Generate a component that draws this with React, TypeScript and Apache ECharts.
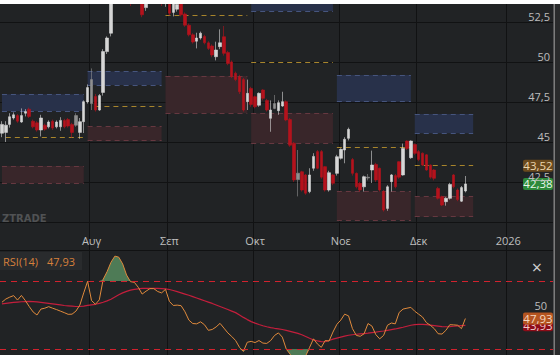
import React, { useEffect, useRef } from 'react';
import * as echarts from 'echarts';

// ---- categories (trading days) ----
const FIRST_DAY = '2025-07-01';
const LAST_DAY = '2026-01-16';
const HOLIDAYS = ['2025-08-15', '2025-10-28'];
const MONTHS_GR = ['Ιαν', 'Φεβ', 'Μαρ', 'Απρ', 'Μαΐ', 'Ιουν', 'Ιουλ', 'Αυγ', 'Σεπ', 'Οκτ', 'Νοε', 'Δεκ'];

// ---- candles: [open, close, low, high] ----
const OHLC: number[][] = [
  [45.55, 46.1, 45.3, 46.3], [45.6, 46.05, 45.0, 46.3], [46.1, 46.58, 45.9, 46.8], [46.5, 46.7, 46.4, 46.85],
  [46.65, 46.3, 46.2, 46.75], [46.25, 46.65, 46.2, 47.1], [46.8, 46.9, 46.6, 47.05], [47.05, 46.6, 46.5, 47.15],
  [46.3, 45.95, 45.85, 46.4], [46.2, 45.75, 45.65, 46.3], [45.75, 46.5, 45.35, 46.7], [46.05, 45.8, 45.7, 46.15],
  [45.95, 46.25, 45.85, 46.35], [46.3, 45.87, 45.75, 46.4], [45.95, 46.25, 45.85, 46.35], [45.95, 46.35, 45.7, 46.55],
  [46.35, 45.95, 45.85, 46.45], [46.4, 46.0, 45.9, 46.5], [46.1, 45.6, 45.27, 46.2], [46.05, 46.65, 45.95, 46.8],
  [45.6, 46.27, 45.2, 46.5], [46.27, 47.52, 45.56, 47.6], [47.5, 48.4, 47.4, 48.6],
  [47.4, 48.9, 47.0, 49.6], [47.85, 47.0, 46.9, 48.0], [47.0, 47.9, 46.95, 48.0], [48.1, 50.65, 47.9, 50.8],
  [50.65, 51.5, 50.5, 51.6], [51.8, 54.2, 51.6, 54.6], [54.2, 55.4, 54.0, 55.8], [55.4, 56.3, 55.0, 56.8],
  [56.3, 55.6, 55.2, 56.9], [55.6, 56.0, 54.8, 56.5], [56.0, 54.6, 53.5, 56.2], [54.6, 55.2, 54.2, 55.6],
  [55.2, 54.4, 54.0, 55.5], [54.2, 52.95, 52.8, 54.5], [53.4, 53.7, 53.2, 54.0], [54.0, 53.8, 53.65, 54.3],
  [53.8, 54.5, 53.7, 54.8], [54.5, 54.0, 53.8, 54.9], [54.0, 53.7, 53.5, 54.2], [53.7, 53.9, 53.45, 54.1],
  [53.9, 53.05, 52.9, 54.0], [53.1, 53.8, 52.85, 54.0], [53.3, 53.6, 53.15, 53.8], [53.7, 52.95, 52.85, 53.9],
  [53.0, 52.3, 52.2, 53.1], [52.3, 51.7, 51.6, 52.4], [51.7, 51.25, 51.15, 51.8], [51.3, 51.5, 50.85, 51.83],
  [51.5, 51.8, 51.4, 51.9], [51.6, 51.2, 51.1, 51.7], [51.2, 50.85, 50.75, 51.3], [51.0, 50.44, 50.3, 51.1],
  [50.33, 50.75, 50.1, 51.27], [50.96, 51.2, 50.8, 52.04], [51.58, 50.54, 50.4, 52.25], [50.6, 49.9, 49.8, 50.7],
  [50.0, 49.1, 49.0, 50.1], [49.3, 48.9, 48.8, 49.4], [49.08, 48.14, 48.0, 49.2], [48.9, 47.0, 46.9, 49.0],
  [47.52, 48.04, 47.0, 48.9], [48.35, 47.35, 47.2, 48.45],
  [47.83, 47.2, 47.1, 47.9], [47.3, 48.04, 47.2, 48.1], [48.25, 47.73, 47.6, 48.3], [47.6, 47.0, 46.9, 47.7],
  [46.48, 47.0, 45.64, 47.6], [47.1, 47.4, 47.05, 47.94], [46.96, 47.46, 46.7, 47.6], [47.25, 47.52, 47.2, 48.14],
  [47.52, 46.38, 46.3, 47.6], [46.4, 44.8, 44.7, 46.5], [44.92, 42.63, 42.5, 45.0], [42.65, 43.05, 41.6, 44.5],
  [43.14, 42.0, 41.9, 43.2], [42.94, 41.8, 41.7, 43.0], [41.9, 42.94, 41.8, 43.36], [43.36, 44.1, 43.2, 44.3],
  [44.4, 43.36, 43.3, 44.5], [44.4, 42.8, 42.7, 44.5], [43.46, 42.0, 41.9, 43.5], [42.0, 43.08, 41.9, 43.2],
  [42.94, 42.42, 42.3, 43.0], [43.04, 44.08, 42.9, 44.2],
  [43.98, 44.54, 43.9, 44.6], [44.5, 45.17, 43.67, 45.3], [45.23, 45.79, 45.1, 45.9], [43.9, 43.04, 42.9, 44.0],
  [43.04, 42.2, 42.1, 43.1], [42.42, 42.0, 41.9, 42.5], [42.2, 42.83, 41.9, 42.9], [42.75, 42.8, 42.6, 43.0],
  [43.25, 43.56, 42.44, 44.46], [43.6, 42.63, 42.5, 43.7], [43.36, 42.0, 41.9, 43.4], [41.9, 40.75, 40.65, 42.0],
  [40.85, 42.2, 40.7, 42.3], [42.52, 42.94, 41.9, 43.0], [42.9, 42.2, 42.1, 43.0], [43.77, 42.8, 42.7, 43.8],
  [42.94, 44.6, 42.9, 44.9], [45.06, 44.6, 44.5, 45.1], [44.02, 45.06, 43.95, 45.1], [44.85, 44.29, 44.2, 44.9],
  [44.4, 43.9, 43.8, 44.5], [44.3, 43.56, 43.5, 44.35], [44.2, 43.25, 43.2, 44.25], [43.56, 42.8, 42.7, 43.6],
  [43.25, 42.73, 42.6, 43.3], [42.1, 41.48, 41.4, 42.2], [41.58, 41.06, 41.0, 41.65], [41.27, 41.48, 41.02, 41.55],
  [41.48, 42.35, 41.4, 42.45], [42.94, 42.2, 42.1, 43.0], [42.0, 41.4, 41.3, 42.1], [41.3, 42.15, 41.25, 42.25],
  [41.94, 42.38, 41.85, 42.875],
];
const GREY_CANDLES = [19, 23, 70, 76, 94];

// ---- RSI(14) and its moving average ----
const RSI = [
  57.5, 59.4, 60.5, 61.4, 58.8, 61.5, 58.5, 55, 51.8, 50.0,
  53.5, 54.0, 54.9, 54.0, 53.2, 52.3, 51.4, 50.4, 50.5, 52.3,
  55.8, 63, 69.8, 58.5, 56.3, 58.9, 71.0, 75.5, 81, 84.6,
  84, 80, 73.5, 69.6, 69.2, 66.3, 62.3, 64.0, 65.5, 65.5,
  63.8, 63, 65.1, 58, 55.6, 55.8, 55.5, 51.9, 47, 45,
  44.8, 46.0, 44.3, 41, 41.5, 43, 45.1, 42.3, 39.5, 37.4,
  35, 31, 28.6, 34, 34.5, 33.8, 35, 33.5, 33.3, 35.0,
  38.0, 39.5, 37, 30, 27, 23, 24, 23.5, 26, 31,
  36, 33, 31, 35, 34.7, 40, 44.5, 47, 50.5, 49.5,
  42, 38, 37.5, 39, 45, 43.5, 38.5, 36, 38, 44,
  45.3, 44.8, 51.5, 53.5, 54, 54.5, 52.2, 50.5, 48.8, 45.5,
  44, 42, 39, 38.8, 41, 44.3, 44.2, 44, 42, 47.93,
];
const RSI_MA = [
  56.5, 56.8, 57.1, 57.4, 57.6, 57.8, 57.9, 58.0, 57.9, 57.7,
  57.4, 57.1, 56.8, 56.5, 56.2, 55.9, 55.6, 55.4, 55.2, 55.0,
  55.0, 55.2, 55.7, 56.0, 56.3, 56.8, 57.5, 58.3, 59.3, 60.6,
  61.9, 63.0, 63.9, 64.6, 65.1, 65.4, 65.6, 65.7, 65.7, 65.7,
  65.6, 65.5, 65.4, 65.0, 64.4, 63.7, 63.0, 62.3, 61.6, 60.8,
  60.0, 59.2, 58.4, 57.6, 56.8, 55.9, 55.0, 54.1, 53.2, 52.3,
  51.4, 50.0, 48.6, 47.3, 46.1, 45.2, 44.4, 43.7, 43.1, 42.6,
  42.2, 41.9, 41.5, 41.0, 40.4, 39.8, 39.2, 38.4, 37.4, 36.3,
  35.3, 34.8, 34.4, 34.3, 35.0, 35.8, 36.4, 37.0, 37.6, 38.1,
  38.4, 38.7, 38.9, 39.1, 39.3, 39.6, 39.9, 40.3, 40.6, 41.0,
  41.4, 41.8, 42.3, 42.8, 43.4, 44.0, 44.4, 44.5, 44.5, 44.3,
  44.1, 43.8, 43.5, 43.2, 43.1, 43.2, 43.4, 43.6, 43.8, 43.93,
];
const RSI_UPPER = 70;
const RSI_LOWER = 30;
const RSI_MID = 50;

// ---- monthly zones: [from, to, low, high] ----
const SUPPLY_ZONES: [string, string, number, number][] = [
  ['2025-07-01', '2025-07-30', 46.94, 47.98],
  ['2025-07-31', '2025-08-28', 48.56, 49.4],
  ['2025-09-30', '2025-10-30', 53.19, 53.62],
  ['2025-10-31', '2025-11-27', 47.52, 49.19],
  ['2025-11-28', '2025-12-19', 45.54, 46.75],
];
const DEMAND_ZONES: [string, string, number, number][] = [
  ['2025-07-01', '2025-07-30', 42.42, 43.5],
  ['2025-07-31', '2025-08-28', 45.08, 45.96],
  ['2025-08-29', '2025-09-29', 46.79, 49.13],
  ['2025-09-30', '2025-10-30', 44.92, 46.79],
  ['2025-10-31', '2025-11-27', 40.125, 41.9],
  ['2025-11-28', '2025-12-19', 40.33, 41.58],
];
const PIVOT_LINES: [string, string, number][] = [
  ['2025-07-02', '2025-07-30', 45.27],
  ['2025-08-04', '2025-08-28', 47.21],
  ['2025-08-29', '2025-09-29', 52.94],
  ['2025-09-30', '2025-10-30', 49.98],
  ['2025-10-31', '2025-11-27', 44.67],
  ['2025-11-28', '2025-12-19', 43.52],
];
const PIVOT_LAST = 43.52;
const LAST_CLOSE = 42.38;
const RSI_LAST = 47.93;
const RSI_MA_LAST = 43.93;

const PRICE_MIN_TICK = 40;
const PRICE_MAX_TICK = 52.5;
const PRICE_STEP = 2.5;

function buildDates(): string[] {
  const out: string[] = [];
  const d = new Date(FIRST_DAY + 'T00:00:00Z');
  const end = new Date(LAST_DAY + 'T00:00:00Z').getTime();
  while (d.getTime() <= end) {
    const wd = d.getUTCDay();
    const s = d.toISOString().slice(0, 10);
    if (wd !== 0 && wd !== 6 && !HOLIDAYS.includes(s)) out.push(s);
    d.setUTCDate(d.getUTCDate() + 1);
  }
  return out;
}

const fmt = (v: number) => String(v).replace('.', ',');

const App = () => {
  const ref = useRef<HTMLDivElement>(null);
  useEffect(() => {
    const chart = echarts.init(ref.current!, undefined, { renderer: 'svg' });
    const dates = buildDates();
    const isMonthStart = (i: number) => i > 0 && dates[i].slice(5, 7) !== dates[i - 1].slice(5, 7);

    const BG = '#212325';
    const GRID = '#111213';
    const FONT = 'Open Sans';
    const W = 553;

    const candleData = OHLC.map((c, i) =>
      GREY_CANDLES.includes(i)
        ? { value: c, itemStyle: { color: '#8f8f8f', borderColor: '#8f8f8f', color0: '#8f8f8f', borderColor0: '#8f8f8f' } }
        : c
    );

    const areaData: any[] = [];
    SUPPLY_ZONES.forEach(([a, b, lo, hi]) =>
      areaData.push([{ xAxis: a, yAxis: hi, itemStyle: { color: '#28314a' } }, { xAxis: b, yAxis: lo }])
    );
    DEMAND_ZONES.forEach(([a, b, lo, hi]) =>
      areaData.push([{ xAxis: a, yAxis: hi, itemStyle: { color: '#39262a' } }, { xAxis: b, yAxis: lo }])
    );
    const lineData: any[] = [];
    const seg = (a: string, b: string, v: number, color: string) =>
      lineData.push([{ coord: [a, v], lineStyle: { color, type: [5, 4], width: 1 } }, { coord: [b, v] }]);
    SUPPLY_ZONES.forEach(([a, b, lo, hi]) => {
      seg(a, b, lo, '#46557e');
      if (hi < 53.6) seg(a, b, hi, '#46557e');
    });
    DEMAND_ZONES.forEach(([a, b, lo, hi]) => {
      seg(a, b, lo, '#663840');
      seg(a, b, hi, '#663840');
    });
    PIVOT_LINES.forEach(([a, b, v]) => seg(a, b, v, '#a8852c'));

    const hidden = { show: false };
    const catAxis = (gridIndex: number, extra: any = {}) => ({
      type: 'category', gridIndex, data: dates, boundaryGap: true,
      axisLine: hidden, axisTick: hidden, axisLabel: hidden, splitLine: hidden, ...extra,
    });

    const option: any = {
      animation: false,
      backgroundColor: BG,
      textStyle: { fontFamily: FONT },
      grid: [
        { left: 0, top: 4, width: W, height: 351 },
        { left: 0, top: 22, width: W, height: 200 },
        { left: 0, top: 4, width: W, height: 225 },
        { left: 0, top: 229, width: W, height: 21 },
        { left: 0, top: 250, width: W, height: 105 },
      ],
      xAxis: [
        catAxis(0, { splitLine: { show: true, interval: (i: number) => isMonthStart(i), lineStyle: { color: GRID, width: 1 } } }),
        catAxis(1),
        catAxis(2),
        catAxis(3, {
          position: 'top',
          axisLine: { show: true, lineStyle: { color: GRID, width: 1 } },
          axisLabel: {
            show: true, inside: true, margin: 6, color: '#bfbfbf', fontSize: 11, fontFamily: FONT,
            interval: (i: number) => isMonthStart(i),
            formatter: (v: string) => (v.slice(5, 7) === '01' ? v.slice(0, 4) : MONTHS_GR[Number(v.slice(5, 7)) - 1]),
          },
        }),
        catAxis(4, { position: 'top', axisLine: { show: true, lineStyle: { color: GRID, width: 1 } } }),
      ],
      yAxis: [
        { type: 'value', gridIndex: 0, show: false },
        {
          type: 'value', gridIndex: 1, position: 'right', min: PRICE_MIN_TICK, max: PRICE_MAX_TICK, interval: PRICE_STEP,
          axisLine: hidden, axisTick: hidden,
          splitLine: { show: true, lineStyle: { color: GRID, width: 1 } },
          axisLabel: {
            inside: true, margin: 3, verticalAlign: 'bottom', color: '#bdbdbd', fontSize: 11, fontFamily: FONT,
            formatter: (v: number) => (v === PRICE_MIN_TICK ? '' : fmt(v)),
          },
        },
        { type: 'value', gridIndex: 2, show: false, min: 39.5625, max: 53.625 },
        { type: 'value', gridIndex: 3, show: false },
        { type: 'value', gridIndex: 4, show: false, min: 26.5, max: 88.2 },
      ],
      series: [
        {
          type: 'line', xAxisIndex: 2, yAxisIndex: 2, data: [], z: 1, silent: true,
          markArea: { silent: true, data: areaData },
          markLine: { silent: true, symbol: ['none', 'none'], label: { show: false }, data: lineData },
        },
        {
          type: 'candlestick', xAxisIndex: 2, yAxisIndex: 2, z: 5, barWidth: 3, clip: true,
          data: candleData,
          itemStyle: { color: '#d6d6d6', color0: '#b5121c', borderColor: '#d6d6d6', borderColor0: '#b5121c', borderWidth: 0.6 },
        },
        {
          name: 'obBase', type: 'line', xAxisIndex: 4, yAxisIndex: 4, stack: 'ob', symbol: 'none', silent: true,
          lineStyle: { width: 0 }, data: RSI.map(() => RSI_UPPER), z: 1,
        },
        {
          name: 'obFill', type: 'line', xAxisIndex: 4, yAxisIndex: 4, stack: 'ob', symbol: 'none', silent: true,
          lineStyle: { width: 0 }, areaStyle: { color: '#4e7b56', opacity: 1 }, data: RSI.map((v) => Math.max(v - RSI_UPPER, 0)), z: 1,
        },
        {
          name: 'osBase', type: 'line', xAxisIndex: 4, yAxisIndex: 4, stack: 'os', symbol: 'none', silent: true,
          lineStyle: { width: 0 }, data: RSI.map((v) => Math.min(v, RSI_LOWER)), z: 1,
        },
        {
          name: 'osFill', type: 'line', xAxisIndex: 4, yAxisIndex: 4, stack: 'os', symbol: 'none', silent: true,
          lineStyle: { width: 0 }, areaStyle: { color: '#4e7b56', opacity: 1 }, data: RSI.map((v) => RSI_LOWER - Math.min(v, RSI_LOWER)), z: 1,
        },
        {
          name: 'RSI MA', type: 'line', xAxisIndex: 4, yAxisIndex: 4, symbol: 'none', data: RSI_MA, z: 3,
          lineStyle: { color: '#c41e3c', width: 1.2 },
        },
        {
          name: 'RSI(14)', type: 'line', xAxisIndex: 4, yAxisIndex: 4, symbol: 'none', data: RSI, z: 4,
          lineStyle: { color: '#e08a3c', width: 1 },
          markLine: {
            silent: true, symbol: ['none', 'none'],
            data: [
              { yAxis: RSI_UPPER, lineStyle: { color: '#d1222e', type: [6, 5], width: 1 }, label: { show: false } },
              { yAxis: RSI_LOWER, lineStyle: { color: '#d1222e', type: [6, 5], width: 1 }, label: { show: false } },
              {
                yAxis: RSI_MID, lineStyle: { color: 'rgba(0,0,0,0)', width: 0 },
                label: { show: true, position: 'insideEndTop', formatter: String(RSI_MID), color: '#bdbdbd', fontSize: 11, fontFamily: FONT, distance: [6, 4] },
              },
            ],
          },
        },
      ],
    };
    chart.setOption(option);

    const py = (ax: number, v: number) => chart.convertToPixel({ yAxisIndex: ax } as any, v) as unknown as number;
    const badge = (y: number, text: string, bg: string, fg: string) => ({
      type: 'group', x: 523, y: y - 6, z: 50,
      children: [
        { type: 'rect', shape: { x: 0, y: 0, width: 30, height: 12, r: 2 }, style: { fill: bg } },
        { type: 'text', x: 15, y: 6, style: { text, fill: fg, font: `11.5px "${FONT}"`, align: 'center', verticalAlign: 'middle' } },
      ],
    });

    chart.setOption({
      graphic: [
        { type: 'rect', z: 60, shape: { x: 0, y: 0, width: 560, height: 4 }, style: { fill: '#ffffff' } },
        { type: 'rect', z: 60, shape: { x: 553, y: 4, width: 7, height: 351 }, style: { fill: '#2a2b2c' } },
        { type: 'rect', z: 61, shape: { x: 553.5, y: 4, width: 1.5, height: 351 }, style: { fill: '#7c7c7c' } },
        { type: 'text', z: 40, x: 2, y: 213, style: { text: 'ZTRADE', fill: '#505254', font: 'bold 10px "DejaVu Sans"' } },
        badge(py(2, PIVOT_LAST), fmt(PIVOT_LAST), '#6b4a1d', '#ecd6ae'),
        badge(py(2, LAST_CLOSE), fmt(LAST_CLOSE), '#2d8a3a', '#e8f6e8'),
        badge(py(4, RSI_MA_LAST), fmt(RSI_MA_LAST), '#8e0c18', '#f0c8c8'),
        badge(py(4, RSI_LAST), fmt(RSI_LAST), '#b45420', '#f6d8c0'),
        { type: 'rect', z: 40, shape: { x: 0, y: 252, width: 82, height: 18 }, style: { fill: '#292b2d' } },
        { type: 'text', z: 41, x: 3, y: 261, style: { text: 'RSI(14)', fill: '#d7803c', font: `11px "${FONT}"`, verticalAlign: 'middle' } },
        { type: 'text', z: 41, x: 47, y: 261, style: { text: fmt(RSI_LAST), fill: '#d7803c', font: `11px "${FONT}"`, verticalAlign: 'middle' } },
        { type: 'text', z: 41, x: 537, y: 267, style: { text: '×', fill: '#cfcfcf', font: `18px "${FONT}"`, align: 'center', verticalAlign: 'middle' } },
      ],
    });

    return () => chart.dispose();
  }, []);
  return <div ref={ref} style={{ position: 'fixed', left: 0, top: 0, width: 560, height: 355 }} />;
};

export default App;
